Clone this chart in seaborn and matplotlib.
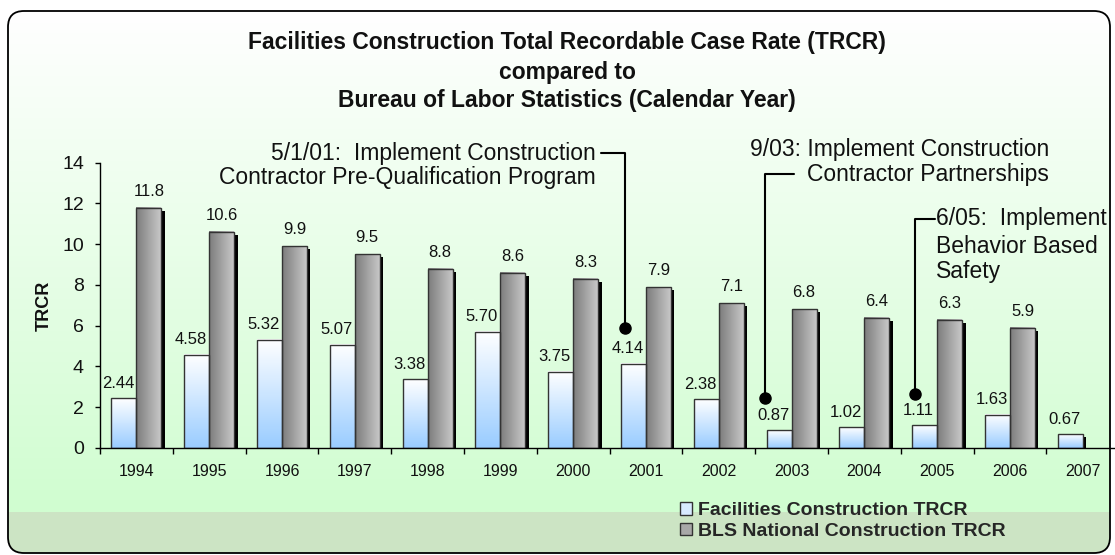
import numpy as np
import pandas as pd
import matplotlib
matplotlib.use('Agg')
import matplotlib.pyplot as plt
import matplotlib.transforms as mtransforms
from matplotlib.patches import Rectangle, FancyBboxPatch, Patch
import seaborn as sns

#%%
# Datos del grafico
years = ['1994', '1995', '1996', '1997', '1998', '1999', '2000',
         '2001', '2002', '2003', '2004', '2005', '2006', '2007']
facilities_trcr = [2.44, 4.58, 5.32, 5.07, 3.38, 5.70, 3.75,
                   4.14, 2.38, 0.87, 1.02, 1.11, 1.63, 0.67]
bls_trcr = [11.8, 10.6, 9.9, 9.5, 8.8, 8.6, 8.3,
            7.9, 7.1, 6.8, 6.4, 6.3, 5.9, np.nan]
series_names = ['Facilities Construction TRCR', 'BLS National Construction TRCR']
label_formats = ['{:.2f}', '{:.1f}']

title_lines = ['Facilities Construction Total Recordable Case Rate (TRCR)',
               'compared to',
               'Bureau of Labor Statistics (Calendar Year)']

# Notas: punto, esquina de la linea, textos (x, y, alineacion)
notes = [
    {'dot': (6.71, 5.90), 'corner_y': 14.47, 'line_x': 6.38, 'ha': 'right', 'text_x': 6.31,
     'lines': [('5/1/01:  Implement Construction', 14.47),
               ('Contractor Pre-Qualification Program', 13.25)]},
    {'dot': (8.635, 2.44), 'corner_y': 13.44, 'line_x': 9.03, 'ha': 'right', 'text_x': 12.54,
     'lines': [('9/03: Implement Construction', 14.67),
               ('Contractor Partnerships', 13.44)]},
    {'dot': (10.695, 2.65), 'corner_y': 11.24, 'line_x': 10.97, 'ha': 'left', 'text_x': 10.99,
     'lines': [('6/05:  Implement', 11.24),
               ('Behavior Based', 9.91),
               ('Safety', 8.64)]},
]

#%%
sns.set_theme(style='white')
plt.rcParams['font.family'] = ['Liberation Sans', 'DejaVu Sans']

data = pd.DataFrame({
    'year': years * 2,
    'trcr': facilities_trcr + bls_trcr,
    'series': [series_names[0]] * len(years) + [series_names[1]] * len(years),
}).dropna()

fig = plt.figure(figsize=(11.15, 5.55), dpi=100)
fig.patch.set_facecolor('white')

# Fondo con borde redondeado y degradado verde
bg = fig.add_axes([0, 0, 1, 1], zorder=0)
bg.set_xlim(0, 1115)
bg.set_ylim(555, 0)
bg.axis('off')
frame = FancyBboxPatch((8, 11), 1102, 542, boxstyle='round,pad=0,rounding_size=16',
                       fc='none', ec='black', lw=1.3, zorder=3)
bg.add_patch(frame)
t = np.linspace(0, 1, 256)[:, None]
top_c = np.array([1.0, 1.0, 1.0])
bot_c = np.array([0xD0, 0xFD, 0xD0]) / 255
grad_bg = ((1 - t) * top_c + t * bot_c).reshape(256, 1, 3)
im = bg.imshow(grad_bg, extent=(8, 1110, 512, 11), aspect='auto', interpolation='bilinear', zorder=1)
im.set_clip_path(frame)
band = Rectangle((8, 512), 1102, 42, fc='#CCE4C4', ec='none', zorder=2)
bg.add_patch(band)
band.set_clip_path(frame)
bg.set_xlim(0, 1115)
bg.set_ylim(555, 0)

#%%
# Grafico de barras
ax = fig.add_axes([100 / 1115, 1 - 448 / 555, 1015 / 1115, 285.3 / 555])
ax.set_zorder(1)
ax.patch.set_alpha(0)

sns.barplot(data=data, x='year', y='trcr', hue='series', hue_order=series_names, order=years,
            palette=['#CCE5FF', '#A0A0A0'], width=0.686, saturation=1, errorbar=None,
            edgecolor='#333333', linewidth=1, legend=False, ax=ax)

# Degradados y sombras de las barras
blue_grad = ((1 - t) * np.array([1.0, 1.0, 1.0]) + t * np.array([0x99, 0xCC, 0xFF]) / 255).reshape(256, 1, 3)
s = np.linspace(0, 1, 256)[:, None]
grey_grad = ((1 - s) * np.array([0x7C, 0x7C, 0x7C]) / 255 + s * np.array([0xC8, 0xC8, 0xC8]) / 255).reshape(1, 256, 3)
shadow_off = mtransforms.ScaledTranslation(3.5 / 100, -3 / 100, fig.dpi_scale_trans)

for i, (cont, grad) in enumerate(zip(ax.containers, [blue_grad, grey_grad])):
    for bar in cont:
        h = bar.get_height()
        if not np.isfinite(h) or h <= 0:
            continue
        x0 = bar.get_x()
        w = bar.get_width()
        ax.add_patch(Rectangle((x0, 0), w, h, transform=ax.transData + shadow_off,
                               fc='black', ec='none', zorder=1))
        ax.imshow(grad, extent=(x0, x0 + w, 0, h), aspect='auto', interpolation='bilinear', zorder=2)
        bar.set_facecolor('none')
        bar.set_zorder(2.5)
        if i == 0:
            ax.annotate(label_formats[i].format(h), xy=(x0 + w / 2, h), xytext=(-4.3, 7.5),
                        textcoords='offset points', ha='center', va='baseline',
                        fontsize=12, color='#111111', zorder=1.8)
        else:
            ax.annotate(label_formats[i].format(h), xy=(x0 + w / 2, h), xytext=(0, 8.6),
                        textcoords='offset points', ha='center', va='baseline',
                        fontsize=12, color='#111111', zorder=3)

ax.set_xlim(-0.5, -0.5 + 1015 / 72.8)
ax.set_ylim(0, 14)
ax.set_aspect('auto')

# Ejes
ax.set_yticks(range(0, 15, 2))
ax.set_xticks(np.arange(-0.5, 13.5, 1), minor=True)
ax.tick_params(axis='x', which='major', length=0, pad=11.5, labelsize=11.5, labelcolor='#111111')
ax.tick_params(axis='x', which='minor', bottom=True, length=4.3, width=1, color='black', direction='out')
ax.tick_params(axis='y', left=True, length=3.6, width=1, color='black', pad=8, labelsize=14,
               labelcolor='#111111')
for side in ['top', 'right']:
    ax.spines[side].set_visible(False)
for side in ['left', 'bottom']:
    ax.spines[side].set_color('black')
    ax.spines[side].set_linewidth(1)
ax.set_xlabel('')
ax.set_ylabel('TRCR', fontsize=13, fontweight='bold', color='#111111')
ax.yaxis.set_label_coords(-0.0463, 0.5)

#%%
# Anotaciones
for note in notes:
    xd, yd = note['dot']
    ax.plot([note['line_x'], xd, xd], [note['corner_y'], note['corner_y'], yd],
            color='black', lw=1.5, clip_on=False, zorder=4)
    ax.plot(xd, yd, 'o', ms=8, color='black', clip_on=False, zorder=4)
    for txt, ty in note['lines']:
        ax.text(note['text_x'], ty, txt, ha=note['ha'], va='center', fontsize=16.5,
                color='#111111', clip_on=False)

# Titulo
for line, ypx in zip(title_lines, [43, 72, 101]):
    fig.text(567 / 1115, 1 - ypx / 555, line, ha='center', va='center',
             fontsize=16.5, fontweight='bold', color='#111111')

# Leyenda
handles = [Patch(facecolor='#D8EBFF', edgecolor='#333333', lw=1),
           Patch(facecolor='#A8A8A8', edgecolor='#333333', lw=1)]
fig.legend(handles, series_names, loc='center left', bbox_to_anchor=(680 / 1115, 1 - 521 / 555),
           frameon=False, prop={'weight': 'bold', 'size': 14}, handlelength=0.62, handleheight=0.62,
           handletextpad=0.3, labelspacing=0.18, borderpad=0, borderaxespad=0)

fig.savefig('out.png', dpi=100)
